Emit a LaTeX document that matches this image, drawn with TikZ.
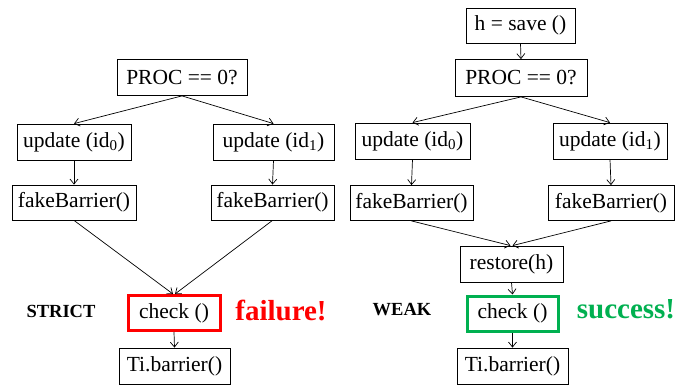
\documentclass[tikz,border=0pt]{standalone}
\usepackage{fontspec}
\setmainfont{Liberation Serif}
\usetikzlibrary{arrows.meta}
\definecolor{failred}{RGB}{255,0,0}
\definecolor{okgreen}{RGB}{0,176,80}
\tikzset{
  box/.style={draw=black, line width=0.8pt, inner sep=0pt, minimum height=36pt, font=\fontsize{21.5}{23}\selectfont},
  chk/.style={box, line width=3pt, minimum height=35pt},
  arr/.style={-{Straight Barb[length=5pt,width=8pt]}, line width=0.7pt},
  lbl/.style={font=\fontsize{18.5}{20}\selectfont\bfseries},
  big/.style={font=\fontsize{29}{31}\selectfont\bfseries},
}
\begin{document}
\begin{tikzpicture}[x=1pt,y=-1pt]
\useasboundingbox (0,0) rectangle (678,385);
% left diagram
\node[box, minimum width=130pt] (lp) at (182,77.5) {PROC == 0?};
\node[box, minimum width=114pt] (lu0) at (74,142) {update (id\textsubscript{0})};
\node[box, minimum width=121pt] (lu1) at (273.5,142) {update (id\textsubscript{1})};
\node[box, minimum width=124pt, minimum height=35pt] (lf0) at (74,202.5) {fakeBarrier()};
\node[box, minimum width=123pt, minimum height=35pt] (lf1) at (272.5,202.5) {fakeBarrier()};
\node[chk, draw=failred, minimum width=92pt] (lc) at (174,313) {check ()};
\node[box, minimum width=111pt] (lt) at (174.5,366) {Ti.barrier()};
\node[lbl] (strict) at (61,311) {STRICT};
\node[big, text=failred] (fail) at (281,310) {failure!};
\draw[arr] (lp.south) -- (lu0.north);
\draw[arr] (lp.south) -- (lu1.north);
\draw[arr] (lu0.south) -- (lf0.north);
\draw[arr] (lu1.south) -- (lf1.north);
\draw[arr] (lf0.south) -- ([xshift=-1pt]lc.north);
\draw[arr] (lf1.south) -- ([xshift=1pt]lc.north);
\draw[arr] (lc.south) -- (lt.north);
% right diagram
\node[box, minimum width=109pt, minimum height=35pt] (rs) at (520.5,25.5) {h = save ()};
\node[box, minimum width=132pt, minimum height=37pt] (rp) at (521,78) {PROC == 0?};
\node[box, minimum width=115pt] (ru0) at (412.5,141) {update (id\textsubscript{0})};
\node[box, minimum width=114pt] (ru1) at (610,141) {update (id\textsubscript{1})};
\node[box, minimum width=123pt, minimum height=35pt] (rf0) at (411.5,203) {fakeBarrier()};
\node[box, minimum width=126pt, minimum height=35pt] (rf1) at (611,203) {fakeBarrier()};
\node[box, minimum width=103pt] (rr) at (511.5,264) {restore(h)};
\node[chk, draw=okgreen, minimum width=91pt] (rc) at (512.5,313.5) {check ()};
\node[box, minimum width=111pt] (rt) at (512.5,366) {Ti.barrier()};
\node[lbl] (weak) at (402,310) {WEAK};
\node[big, text=okgreen] (succ) at (626,309) {success!};
\draw[arr] (rs.south) -- (rp.north);
\draw[arr] (rp.south) -- (ru0.north);
\draw[arr] (rp.south) -- (ru1.north);
\draw[arr] (ru0.south) -- (rf0.north);
\draw[arr] (ru1.south) -- (rf1.north);
\draw[arr] (rf0.south) -- ([xshift=-1pt]rr.north);
\draw[arr] (rf1.south) -- ([xshift=1pt]rr.north);
\draw[arr] (rr.south) -- (rc.north);
\draw[arr] (rc.south) -- (rt.north);
\end{tikzpicture}
\end{document}
